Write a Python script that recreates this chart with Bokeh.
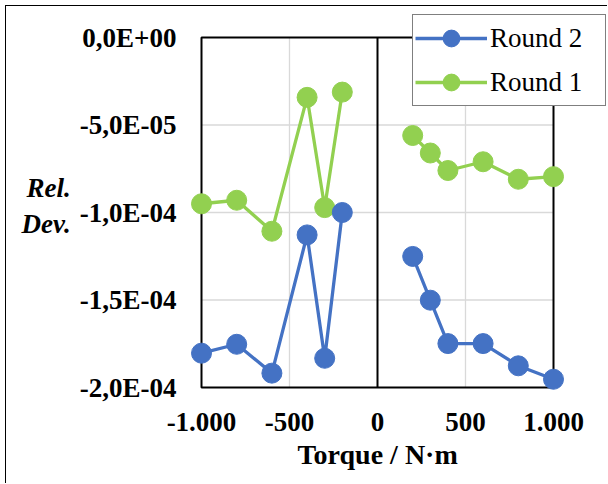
import numpy as np
from bokeh.plotting import figure
from bokeh.models import (Range1d, FixedTicker, CustomJSTickFormatter, Legend, LegendItem, Title)
from bokeh.embed import file_html
from bokeh.resources import INLINE

# ---- data ----
torque = [-1000, -800, -600, -400, -300, -200, 200, 300, 400, 600, 800, 1000]
round1 = [-9.5e-5, -9.3e-5, -1.107e-4, -3.42e-5, -9.72e-5, -3.12e-5,
          -5.6e-5, -6.6e-5, -7.6e-5, -7.1e-5, -8.1e-5, -7.95e-5]
round2 = [-1.804e-4, -1.753e-4, -1.918e-4, -1.128e-4, -1.833e-4, -1.0e-4,
          -1.251e-4, -1.501e-4, -1.749e-4, -1.749e-4, -1.876e-4, -1.953e-4]
x_ticks = [-1000, -500, 0, 500, 1000]
y_ticks = [-2e-4, -1.5e-4, -1e-4, -5e-5, 0.0]
XMIN, XMAX = -1000, 1000
YMIN, YMAX = -2e-4, 0.0

BLUE = "#4472C4"
GREEN = "#92D050"
FONT = "Liberation Serif"

# page layout (absolute window pixels)
OX, OY = 6, 6                    # outer chart border offset
BOX_L, BOX_R, BOX_T, BOX_B = 201, 553, 37, 387   # axis box
FR_L, FR_R, FR_T, FR_B = BOX_L - 12, 608, 12, BOX_B + 12   # drawing frame
W, H = 608 - OX, 484 - OY

sx = (XMAX - XMIN) / (BOX_R - BOX_L)
sy = (YMAX - YMIN) / (BOX_B - BOX_T)


def split_at_zero(xs, ys):
    ox, oy = [], []
    for i, (xv, yv) in enumerate(zip(xs, ys)):
        if i > 0 and (xs[i - 1] < 0) != (xv < 0):
            ox.append(np.nan)
            oy.append(np.nan)
        ox.append(xv)
        oy.append(yv)
    return ox, oy


p = figure(width=W, height=H, output_backend="svg", toolbar_location=None,
           x_range=Range1d(XMIN - (BOX_L - FR_L) * sx, XMAX + (FR_R - BOX_R) * sx),
           y_range=Range1d(YMIN - (FR_B - BOX_B) * sy, YMAX + (BOX_T - FR_T) * sy),
           min_border_left=FR_L - OX, min_border_right=608 - FR_R,
           min_border_top=FR_T - OY, min_border_bottom=484 - FR_B)
p.styles = {"margin-left": f"{OX - 1}px", "margin-top": f"{OY - 1}px",
            "border-left": "1.5px solid black", "border-top": "1.5px solid black"}
p.outline_line_color = None
p.background_fill_color = "white"
p.border_fill_color = "white"
p.xgrid.visible = False
p.ygrid.visible = False

# grid lines (inside the axis box only)
gx = [t for t in x_ticks if XMIN < t < XMAX and t != 0]
gy = [t for t in y_ticks if YMIN < t < YMAX]
p.segment(x0=gx, x1=gx, y0=[YMIN] * len(gx), y1=[YMAX] * len(gx),
          line_color="#d9d9d9", line_width=1.3)
p.segment(x0=[XMIN] * len(gy), x1=[XMAX] * len(gy), y0=gy, y1=gy,
          line_color="#d9d9d9", line_width=1.3)

# axis box and zero line
p.quad(left=[XMIN], right=[XMAX], bottom=[YMIN], top=[YMAX],
       fill_color=None, line_color="black", line_width=2)
p.segment(x0=[0], x1=[0], y0=[YMIN], y1=[YMAX], line_color="black", line_width=2)

# series
lx1, ly1 = split_at_zero(torque, round1)
lx2, ly2 = split_at_zero(torque, round2)
l1 = p.line(lx1, ly1, line_color=GREEN, line_width=3.3)
s1 = p.scatter(torque, round1, size=20, fill_color=GREEN, line_color=GREEN)
l2 = p.line(lx2, ly2, line_color=BLUE, line_width=3.3)
s2 = p.scatter(torque, round2, size=20, fill_color=BLUE, line_color=BLUE)

# axes
for ax in (p.xaxis[0], p.yaxis[0]):
    ax.axis_line_color = None
    ax.major_tick_line_color = None
    ax.minor_tick_line_color = None
    ax.major_label_text_font = FONT
    ax.major_label_text_font_style = "bold"
    ax.major_label_text_font_size = "27px"
    ax.major_label_text_color = "black"
    ax.axis_label_text_font = FONT
    ax.axis_label_text_color = "black"

p.xaxis.ticker = FixedTicker(ticks=x_ticks)
p.xaxis.formatter = CustomJSTickFormatter(code="""
const s = Math.abs(tick).toFixed(0).replace(/\\B(?=(\\d{3})+(?!\\d))/g, ".");
return (tick < 0 ? "-" : "") + s;
""")
p.xaxis.major_label_standoff = 7

# x axis title, centred under the axis box (not under the wider drawing frame)
xtitle = Title(text="Torque / N·m", align="left", offset=297 - FR_L,
               text_font=FONT, text_font_style="bold", text_font_size="28px",
               text_color="black", standoff=7)
p.add_layout(xtitle, "below")

p.yaxis.ticker = FixedTicker(ticks=y_ticks)
p.yaxis.formatter = CustomJSTickFormatter(code="""
if (Math.abs(tick) < 1e-15) return "0,0E+00";
const e = Math.floor(Math.log10(Math.abs(tick)) + 1e-9);
const m = tick / Math.pow(10, e);
const es = (e < 0 ? "-" : "+") + String(Math.abs(e)).padStart(2, "0");
return m.toFixed(1).replace(".", ",") + "E" + es;
""")
p.yaxis.major_label_standoff = 7
p.yaxis.axis_label = "Rel.\nDev."
p.yaxis.axis_label_orientation = "horizontal"
p.yaxis.axis_label_text_font_style = "bold italic"
p.yaxis.axis_label_text_font_size = "27px"
p.yaxis.axis_label_standoff = 6

# legend
legend = Legend(items=[LegendItem(label="Round 2", renderers=[l2, s2]),
                       LegendItem(label="Round 1", renderers=[l1, s1])],
                location=(412 - FR_L, FR_B - 106),
                orientation="vertical")
legend.label_text_font = FONT
legend.label_text_font_size = "27px"
legend.label_text_color = "black"
legend.border_line_color = "black"
legend.border_line_width = 1
legend.background_fill_color = "white"
legend.background_fill_alpha = 1
legend.padding = 2
legend.margin = 0
legend.spacing = 2
legend.glyph_width = 72
legend.glyph_height = 42
legend.label_height = 42
legend.label_standoff = 3
legend.label_width = 113
p.add_layout(legend, "center")

open("out.html", "w").write(file_html(p, INLINE))
